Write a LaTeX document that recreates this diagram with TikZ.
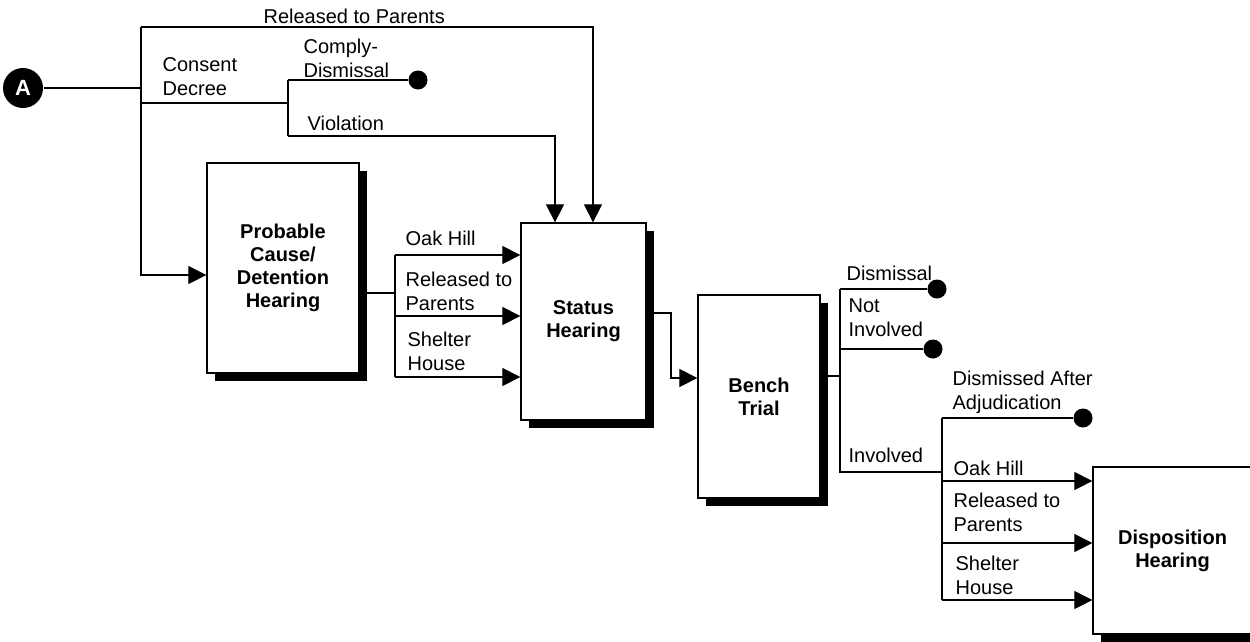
\documentclass[tikz,border=0pt]{standalone}
\usepackage{fontspec}
\setmainfont{Liberation Sans}
\usetikzlibrary{arrows.meta,shadows}
\newcommand\lblfont{\fontsize{20}{23.5}\selectfont}
\newcommand\boxfont{\bfseries\fontsize{20}{23}\selectfont}
\begin{document}
\begin{tikzpicture}[x=1pt,y=-1pt,line width=1.2pt,
  every node/.style={inner sep=0pt},
  stage/.style={draw,line width=1.3pt,fill=white,align=center,font=\boxfont,
    drop shadow={shadow xshift=7.5pt,shadow yshift=-7.5pt,fill=black,opacity=1}},
  lbl/.style={anchor=base west,align=left,font=\lblfont},
  stop/.style={circle,fill=black,minimum size=19pt},
  arr/.style={-{Triangle[length=18pt,width=18pt]}}]
\useasboundingbox (0,0) rectangle (1250,641);
\clip (0,0) rectangle (1250,641);

% entry point and hearings
\node[circle,fill=black,minimum size=40pt,text=white,
  font=\bfseries\fontsize{22}{22}\selectfont] (A) at (23,88) {A};
\node[stage,minimum width=152pt,minimum height=210pt] (pc) at (283,268)
  {Probable\\Cause/\\Detention\\Hearing};
\node[stage,minimum width=125pt,minimum height=197pt] (sh) at (583.5,321.5)
  {Status\\Hearing};
\node[stage,minimum width=122pt,minimum height=203pt] (bt) at (759,396.5)
  {Bench\\Trial};
\node[stage,minimum width=159pt,minimum height=167pt] (dh) at (1172.5,550.5)
  {Disposition\\Hearing};

% terminal outcomes
\node[stop] (d1) at (418,80) {};
\node[stop] (d2) at (937,289) {};
\node[stop] (d3) at (933,349) {};
\node[stop] (d4) at (1083,418) {};

% branch points
\coordinate (ja) at (141,88);
\coordinate (jt) at (141,27);
\coordinate (jrp) at (593,27);
\coordinate (jb) at (141,275);
\coordinate (jc) at (141,103);
\coordinate (jd) at (288,103);
\coordinate (jcm) at (288,80);
\coordinate (jv) at (288,136);
\coordinate (jvr) at (555,136);
\coordinate (jp) at (395,293);
\coordinate (jo1) at (395,255);
\coordinate (jr1) at (395,316);
\coordinate (js1) at (395,377);
\coordinate (ks) at (671,313);
\coordinate (kb) at (671,378);
\coordinate (jbt) at (840,376);
\coordinate (jdm) at (840,289);
\coordinate (jni) at (840,349);
\coordinate (jin) at (840,472);
\coordinate (ji) at (942,472);
\coordinate (jda) at (942,418);
\coordinate (jo2) at (942,481);
\coordinate (jr2) at (942,543);
\coordinate (js2) at (942,600);

% connectors
\draw (A) -- (ja);
\draw[arr] (jt) -- (jb) -- (pc.west |- jb);
\draw[arr] (jt) -- (jrp) -- (sh.north -| jrp);
\draw (jc) -- (jd);
\draw (jcm) -- (jv);
\draw (jcm) -- (d1);
\draw[arr] (jv) -- (jvr) -- (sh.north -| jvr);

\draw (pc.east |- jp) -- (jp);
\draw (jo1) -- (js1);
\draw[arr] (jo1) -- (sh.west |- jo1);
\draw[arr] (jr1) -- (sh.west |- jr1);
\draw[arr] (js1) -- (sh.west |- js1);

\draw[arr] (sh.east |- ks) -- (ks) -- (kb) -- (bt.west |- kb);

\draw (bt.east |- jbt) -- (jbt);
\draw (jdm) -- (jin) -- (ji);
\draw (jdm) -- (d2);
\draw (jni) -- (d3);
\draw (jda) -- (js2);
\draw (jda) -- (d4);
\draw[arr] (jo2) -- (dh.west |- jo2);
\draw[arr] (jr2) -- (dh.west |- jr2);
\draw[arr] (js2) -- (dh.west |- js2);

% branch labels (placed by the baseline of their last line)
\node[lbl] (l1) at (263,23) {Released to Parents};
\node[lbl] (l2) at (162,95) {Consent\\Decree};
\node[lbl] (l3) at (303,77) {Comply-\\Dismissal};
\node[lbl] (l4) at (307,130) {Violation};
\node[lbl] (l5) at (405,245) {Oak Hill};
\node[lbl] (l6) at (405,310) {Released to\\Parents};
\node[lbl] (l7) at (407,370) {Shelter\\House};
\node[lbl] (l8) at (846,280) {Dismissal};
\node[lbl] (l9) at (848,336) {Not\\Involved};
\node[lbl] (l10) at (848,462) {Involved};
\node[lbl] (l11) at (952,409) {Dismissed After\\Adjudication};
\node[lbl] (l12) at (953,475) {Oak Hill};
\node[lbl] (l13) at (953,531) {Released to\\Parents};
\node[lbl] (l14) at (955,594) {Shelter\\House};
\end{tikzpicture}
\end{document}
